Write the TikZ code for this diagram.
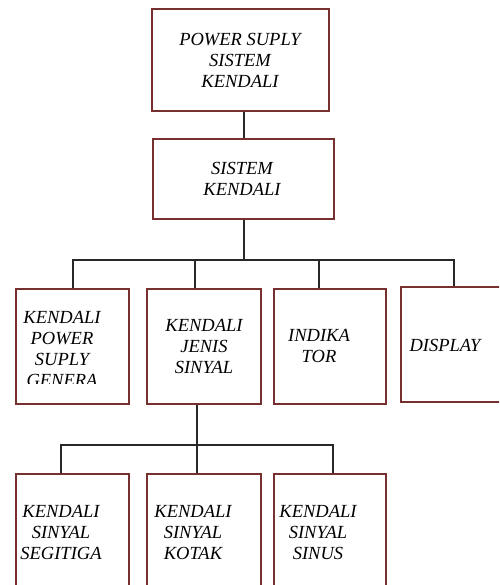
\documentclass[tikz,border=0pt]{standalone}
\usepackage{fontspec}
\setmainfont{Liberation Serif}
\definecolor{boxred}{RGB}{118,48,48}
\definecolor{wire}{RGB}{40,40,40}
\begin{document}
\begin{tikzpicture}[x=1pt,y=-1pt,
  blk/.style={draw=boxred,line width=1.7pt,fill=white,inner sep=0pt,anchor=north west},
  lbl/.style={inner sep=0pt,align=center,font=\fontsize{18.5}{21}\selectfont\itshape},
  wirel/.style={draw=wire,line width=1.3pt}]
\useasboundingbox (0,0) rectangle (499,585);
\clip (0,0) rectangle (499,585);
% boxes
\node[blk,minimum width=177pt,minimum height=102pt] (P1) at (151,8) {};
\node[blk,minimum width=181pt,minimum height=80pt] (P2) at (152,138) {};
\node[blk,minimum width=113pt,minimum height=115pt] (A) at (15,288) {};
\node[blk,minimum width=114pt,minimum height=115pt] (B) at (146,288) {};
\node[blk,minimum width=112pt,minimum height=115pt] (C) at (273,288) {};
\node[blk,minimum width=130pt,minimum height=115pt] (D) at (400,286) {};
\node[blk,minimum width=113pt,minimum height=140pt] (E) at (15,473) {};
\node[blk,minimum width=114pt,minimum height=140pt] (F) at (146,473) {};
\node[blk,minimum width=112pt,minimum height=140pt] (G) at (273,473) {};
% junction points
\coordinate (tm) at (244,260);
\coordinate (ta) at (73,260);
\coordinate (tb) at (195,260);
\coordinate (tc) at (319,260);
\coordinate (td) at (454,260);
\coordinate (ue) at (61,445);
\coordinate (uf) at (197,445);
\coordinate (ug) at (333,445);
% connectors
\draw[wirel] (P1.south -| tm) -- (P2.north -| tm);
\draw[wirel] (P2.south -| tm) -- (tm);
\draw[wirel] (A.north -| ta) -- (ta) -- (td) -- (D.north -| td);
\draw[wirel] (B.north -| tb) -- (tb);
\draw[wirel] (C.north -| tc) -- (tc);
\draw[wirel] (B.south -| uf) -- (uf);
\draw[wirel] (E.north -| ue) -- (ue) -- (ug) -- (G.north -| ug);
\draw[wirel] (uf) -- (F.north -| uf);
% texts
\node[lbl] (tP1) at (240,60.5) {POWER SUPLY\\SISTEM\\KENDALI};
\node[lbl] (tP2) at (242,179) {SISTEM\\KENDALI};
\begin{scope}
\clip (17,290) rectangle (126,383);
\node[lbl] (tA) at (62,359) {KENDALI\\POWER\\SUPLY\\GENERA\\TOR};
\end{scope}
\node[lbl] (tB) at (204,346.5) {KENDALI\\JENIS\\SINYAL};
\node[lbl] (tC) at (319,346) {INDIKA\\TOR};
\node[lbl] (tD) at (445,345) {DISPLAY};
\node[lbl] (tE) at (61,532) {KENDALI\\SINYAL\\SEGITIGA};
\node[lbl] (tF) at (193,532) {KENDALI\\SINYAL\\KOTAK};
\node[lbl] (tG) at (318,532) {KENDALI\\SINYAL\\SINUS};
\end{tikzpicture}
\end{document}
